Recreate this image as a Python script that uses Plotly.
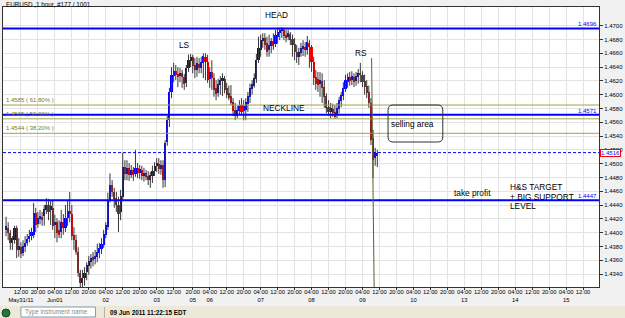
import plotly.graph_objects as go
import pandas as pd

# ---------------- data (EURUSD, 1 hour bars) ----------------
opens = [1.4404, 1.4407, 1.4399, 1.4385, 1.4389, 1.4407, 1.4375, 1.4379, 1.4370, 1.4379,
         1.4385, 1.4391, 1.4395, 1.4397, 1.4429, 1.4412, 1.4420, 1.4423, 1.4424, 1.4433,
         1.4440, 1.4433, 1.4436, 1.4411, 1.4415, 1.4404, 1.4401, 1.4415, 1.4407, 1.4421,
         1.4431, 1.4427, 1.4397, 1.4389, 1.4372, 1.4341, 1.4327, 1.4334, 1.4343, 1.4351,
         1.4357, 1.4365, 1.4362, 1.4365, 1.4370, 1.4376, 1.4382, 1.4397, 1.4408, 1.4447,
         1.4469, 1.4459, 1.4450, 1.4440, 1.4430, 1.4452, 1.4495, 1.4485, 1.4494, 1.4484,
         1.4491, 1.4485, 1.4494, 1.4486, 1.4491, 1.4482, 1.4486, 1.4482, 1.4476, 1.4482,
         1.4489, 1.4497, 1.4499, 1.4492, 1.4498, 1.4476, 1.4531, 1.4563, 1.4604, 1.4627,
         1.4634, 1.4630, 1.4627, 1.4631, 1.4626, 1.4617, 1.4639, 1.4649, 1.4655, 1.4643,
         1.4636, 1.4645, 1.4639, 1.4646, 1.4655, 1.4647, 1.4623, 1.4633, 1.4624, 1.4610,
         1.4602, 1.4614, 1.4620, 1.4623, 1.4610, 1.4602, 1.4598, 1.4589, 1.4578, 1.4569,
         1.4576, 1.4585, 1.4576, 1.4578, 1.4587, 1.4597, 1.4608, 1.4613, 1.4623, 1.4650,
         1.4665, 1.4678, 1.4682, 1.4675, 1.4665, 1.4671, 1.4678, 1.4674, 1.4684, 1.4689,
         1.4692, 1.4694, 1.4687, 1.4684, 1.4688, 1.4681, 1.4674, 1.4662, 1.4655, 1.4660,
         1.4666, 1.4669, 1.4665, 1.4675, 1.4669, 1.4647, 1.4626, 1.4623, 1.4616, 1.4620,
         1.4611, 1.4598, 1.4582, 1.4575, 1.4579, 1.4575, 1.4571, 1.4579, 1.4591, 1.4598,
         1.4608, 1.4618, 1.4626, 1.4621, 1.4626, 1.4620, 1.4626, 1.4631, 1.4629, 1.4620,
         1.4613, 1.4604, 1.4588, 1.4537, 1.4508, 1.4511]
highs = [1.4423, 1.4415, 1.4404, 1.4395, 1.4410, 1.4410, 1.4392, 1.4386, 1.4389, 1.4395,
         1.4398, 1.4404, 1.4407, 1.4443, 1.4436, 1.4430, 1.4433, 1.4430, 1.4440, 1.4450,
         1.4449, 1.4447, 1.4447, 1.4426, 1.4421, 1.4418, 1.4433, 1.4427, 1.4440, 1.4447,
         1.4459, 1.4440, 1.4408, 1.4397, 1.4379, 1.4346, 1.4346, 1.4350, 1.4357, 1.4366,
         1.4369, 1.4372, 1.4375, 1.4384, 1.4385, 1.4392, 1.4404, 1.4415, 1.4458, 1.4486,
         1.4476, 1.4465, 1.4459, 1.4452, 1.4462, 1.4516, 1.4505, 1.4505, 1.4501, 1.4498,
         1.4495, 1.4520, 1.4501, 1.4498, 1.4497, 1.4494, 1.4491, 1.4489, 1.4488, 1.4497,
         1.4502, 1.4508, 1.4508, 1.4505, 1.4505, 1.4534, 1.4569, 1.4610, 1.4640, 1.4646,
         1.4643, 1.4640, 1.4639, 1.4636, 1.4630, 1.4643, 1.4658, 1.4659, 1.4658, 1.4653,
         1.4655, 1.4653, 1.4655, 1.4660, 1.4660, 1.4658, 1.4640, 1.4650, 1.4631, 1.4621,
         1.4623, 1.4627, 1.4631, 1.4627, 1.4617, 1.4613, 1.4614, 1.4595, 1.4588, 1.4584,
         1.4592, 1.4595, 1.4592, 1.4595, 1.4604, 1.4616, 1.4621, 1.4631, 1.4659, 1.4684,
         1.4687, 1.4689, 1.4689, 1.4684, 1.4687, 1.4682, 1.4689, 1.4694, 1.4697, 1.4697,
         1.4698, 1.4697, 1.4694, 1.4694, 1.4691, 1.4687, 1.4682, 1.4672, 1.4668, 1.4675,
         1.4679, 1.4676, 1.4685, 1.4679, 1.4672, 1.4655, 1.4636, 1.4633, 1.4633, 1.4631,
         1.4621, 1.4602, 1.4592, 1.4588, 1.4587, 1.4585, 1.4588, 1.4597, 1.4604, 1.4618,
         1.4629, 1.4631, 1.4633, 1.4634, 1.4631, 1.4633, 1.4637, 1.4646, 1.4634, 1.4629,
         1.4621, 1.4613, 1.4595, 1.4549, 1.4523, 1.4520]
lows = [1.4395, 1.4389, 1.4375, 1.4375, 1.4384, 1.4363, 1.4365, 1.4363, 1.4366, 1.4372,
        1.4381, 1.4386, 1.4389, 1.4392, 1.4401, 1.4407, 1.4412, 1.4410, 1.4410, 1.4427,
        1.4418, 1.4411, 1.4404, 1.4392, 1.4386, 1.4392, 1.4392, 1.4397, 1.4401, 1.4410,
        1.4415, 1.4389, 1.4375, 1.4368, 1.4336, 1.4321, 1.4321, 1.4323, 1.4331, 1.4339,
        1.4348, 1.4351, 1.4354, 1.4357, 1.4363, 1.4369, 1.4378, 1.4392, 1.4404, 1.4444,
        1.4452, 1.4436, 1.4430, 1.4401, 1.4418, 1.4447, 1.4476, 1.4476, 1.4475, 1.4479,
        1.4475, 1.4481, 1.4479, 1.4478, 1.4476, 1.4474, 1.4476, 1.4469, 1.4465, 1.4472,
        1.4482, 1.4488, 1.4485, 1.4484, 1.4465, 1.4466, 1.4526, 1.4553, 1.4595, 1.4618,
        1.4621, 1.4611, 1.4618, 1.4610, 1.4607, 1.4611, 1.4633, 1.4640, 1.4631, 1.4624,
        1.4626, 1.4631, 1.4631, 1.4624, 1.4621, 1.4617, 1.4610, 1.4607, 1.4597, 1.4592,
        1.4597, 1.4600, 1.4598, 1.4602, 1.4595, 1.4592, 1.4585, 1.4569, 1.4563, 1.4566,
        1.4571, 1.4571, 1.4563, 1.4563, 1.4575, 1.4588, 1.4600, 1.4610, 1.4617, 1.4646,
        1.4655, 1.4668, 1.4665, 1.4655, 1.4655, 1.4660, 1.4665, 1.4669, 1.4674, 1.4679,
        1.4682, 1.4679, 1.4676, 1.4679, 1.4672, 1.4655, 1.4650, 1.4646, 1.4643, 1.4655,
        1.4656, 1.4655, 1.4658, 1.4639, 1.4633, 1.4614, 1.4607, 1.4604, 1.4597, 1.4588,
        1.4581, 1.4573, 1.4569, 1.4566, 1.4568, 1.4565, 1.4566, 1.4573, 1.4582, 1.4592,
        1.4604, 1.4610, 1.4613, 1.4614, 1.4611, 1.4613, 1.4616, 1.4618, 1.4611, 1.4600,
        1.4595, 1.4581, 1.4527, 1.4479, 1.4497, 1.4495]
closes = [1.4410, 1.4399, 1.4385, 1.4392, 1.4407, 1.4375, 1.4381, 1.4369, 1.4381, 1.4385,
          1.4391, 1.4395, 1.4401, 1.4429, 1.4411, 1.4421, 1.4424, 1.4418, 1.4434, 1.4440,
          1.4430, 1.4439, 1.4410, 1.4415, 1.4399, 1.4397, 1.4415, 1.4407, 1.4421, 1.4431,
          1.4427, 1.4395, 1.4389, 1.4372, 1.4341, 1.4327, 1.4334, 1.4341, 1.4353, 1.4359,
          1.4363, 1.4360, 1.4366, 1.4372, 1.4378, 1.4384, 1.4398, 1.4411, 1.4447, 1.4469,
          1.4459, 1.4449, 1.4440, 1.4427, 1.4453, 1.4495, 1.4485, 1.4494, 1.4484, 1.4491,
          1.4484, 1.4494, 1.4486, 1.4492, 1.4482, 1.4486, 1.4481, 1.4476, 1.4484, 1.4489,
          1.4497, 1.4501, 1.4492, 1.4498, 1.4476, 1.4530, 1.4563, 1.4604, 1.4629, 1.4634,
          1.4629, 1.4626, 1.4631, 1.4626, 1.4616, 1.4639, 1.4650, 1.4655, 1.4642, 1.4636,
          1.4646, 1.4639, 1.4647, 1.4656, 1.4647, 1.4621, 1.4633, 1.4624, 1.4607, 1.4601,
          1.4616, 1.4621, 1.4624, 1.4607, 1.4600, 1.4595, 1.4588, 1.4576, 1.4569, 1.4578,
          1.4584, 1.4575, 1.4584, 1.4589, 1.4598, 1.4610, 1.4616, 1.4624, 1.4650, 1.4668,
          1.4679, 1.4682, 1.4672, 1.4662, 1.4672, 1.4678, 1.4671, 1.4687, 1.4691, 1.4694,
          1.4695, 1.4685, 1.4682, 1.4689, 1.4679, 1.4672, 1.4662, 1.4655, 1.4662, 1.4668,
          1.4671, 1.4665, 1.4676, 1.4669, 1.4647, 1.4624, 1.4616, 1.4614, 1.4621, 1.4610,
          1.4597, 1.4581, 1.4575, 1.4581, 1.4573, 1.4568, 1.4581, 1.4592, 1.4600, 1.4610,
          1.4621, 1.4626, 1.4620, 1.4627, 1.4618, 1.4627, 1.4631, 1.4629, 1.4618, 1.4611,
          1.4602, 1.4588, 1.4534, 1.4505, 1.4517, 1.4516]

# trading sessions (bar times) and empty future slots of the time axis
sessions = [("2011-05-31 05:00", "2011-06-03 17:00"), ("2011-06-05 17:00", "2011-06-09 11:00")]
future_slots = [("2011-06-09 12:00", "2011-06-11 03:00"), ("2011-06-13 04:00", "2011-06-15 23:00")]
label_hours = [4, 12, 20]
first_date_labels = {"2011-05-31": "May31/11", "2011-06-01": "Jun01"}

y_ticks = [1.4340, 1.4360, 1.4380, 1.4400, 1.4420, 1.4440, 1.4460, 1.4480, 1.4500,
           1.4520, 1.4540, 1.4560, 1.4580, 1.4600, 1.4620, 1.4640, 1.4660, 1.4680, 1.4700]

blue_levels = [1.4696, 1.4571, 1.4447]
fib_levels = [1.4585, 1.4565, 1.4544]
fib_labels = ["1.4585 ( 61.80% )", "1.4565 ( 50.00% )", "1.4544 ( 38.20% )"]
current_price = 1.4516
vline_top = 1.4653

# ---------------- build axis ----------------
bar_times = []
for a, b in sessions:
    bar_times += list(pd.date_range(a, b, freq="h"))
axis_times = list(bar_times)
for a, b in future_slots:
    axis_times += list(pd.date_range(a, b, freq="h"))

XMIN, XMAX = -1.44, 279.5
YMIN, YMAX = 1.43212, 1.47271

tickvals, ticktext = [], []
seen_dates = set()
for i, t in enumerate(axis_times):
    if i < XMIN or i > XMAX:
        continue
    if t.hour in label_hours and t.minute == 0:
        d = t.strftime("%Y-%m-%d")
        txt_ = t.strftime("%H:%M")
        if d not in seen_dates:
            seen_dates.add(d)
            txt_ += "<br>" + first_date_labels.get(d, t.strftime("%d"))
        tickvals.append(i)
        ticktext.append(txt_)

n = len(opens)
xs = list(range(n))

# wicks
wx, wy = [], []
for i in xs:
    wx += [i, i, None]
    wy += [lows[i], highs[i], None]

bases = [min(o, c) for o, c in zip(opens, closes)]
heights = [max(abs(c - o), 0.00006) for o, c in zip(opens, closes)]
colors = ["#0000ff" if c >= o else "#ff0000" for o, c in zip(opens, closes)]

fig = go.Figure()
fig.add_trace(go.Scatter(x=wx, y=wy, mode="lines", line=dict(color="#383838", width=1),
                         hoverinfo="skip", showlegend=False))
fig.add_trace(go.Bar(x=xs, y=heights, base=bases, marker=dict(color=colors, line=dict(width=0)),
                     width=1.0, showlegend=False))

FONT = "Liberation Sans, Arial, sans-serif"
PL, PR, PT, PB = 2, 601, 7, 287


def px(xp):
    return (xp - PL) / (PR - PL)


def py(yp):
    return (PB - yp) / (PB - PT)


shapes = []
olive = "#a3a34c"
for lv in fib_levels:
    shapes.append(dict(type="line", xref="paper", yref="y", x0=0, x1=1, y0=lv, y1=lv,
                       line=dict(color=olive, width=1)))
for lv in blue_levels:
    shapes.append(dict(type="line", xref="paper", yref="y", x0=0, x1=1, y0=lv, y1=lv,
                       line=dict(color="#0000ff", width=2)))
shapes.append(dict(type="line", xref="paper", yref="y", x0=0, x1=1, y0=current_price, y1=current_price,
                   line=dict(color="#0000ff", width=1, dash="3px,2px")))
shapes.append(dict(type="line", xref="x", yref="y", x0=172.3, x1=173.5, y0=vline_top, y1=YMIN,
                   line=dict(color="#5f5f30", width=1)))

# rounded "selling area" box
x0b, x1b, y0b, y1b = px(389), px(444), py(142), py(105)
rx, ry = 5 / (PR - PL), 5 / (PB - PT)
path = (f"M {x0b+rx},{y1b} L {x1b-rx},{y1b} Q {x1b},{y1b} {x1b},{y1b-ry} "
        f"L {x1b},{y0b+ry} Q {x1b},{y0b} {x1b-rx},{y0b} L {x0b+rx},{y0b} "
        f"Q {x0b},{y0b} {x0b},{y0b+ry} L {x0b},{y1b-ry} Q {x0b},{y1b} {x0b+rx},{y1b} Z")
shapes.append(dict(type="path", xref="paper", yref="paper", path=path,
                   line=dict(color="#333333", width=1)))

# status bar
shapes.append(dict(type="rect", xref="paper", yref="paper", x0=px(-5), x1=px(630), y0=py(306), y1=py(320),
                   fillcolor="#ece9d8", line=dict(width=0), layer="below"))
shapes.append(dict(type="rect", xref="paper", yref="paper", x0=px(20), x1=px(95), y0=py(317), y1=py(307),
                   fillcolor="#ffffff", line=dict(color="#7f9db9", width=1)))
shapes.append(dict(type="circle", xref="paper", yref="paper", x0=px(1), x1=px(9), y0=py(317), y1=py(309),
                   fillcolor="#1f7a3a", line=dict(color="#0d4d20", width=1)))
shapes.append(dict(type="line", xref="paper", yref="paper", x0=px(104), x1=px(104), y0=py(307), y1=py(318),
                   line=dict(color="#b8b49c", width=1)))

annotations = []


def txt(x, y, s, size=8.3, color="black", xanchor="center", yanchor="middle", **kw):
    annotations.append(dict(xref="paper", yref="paper", x=px(x), y=py(y), text=s, showarrow=False,
                            xanchor=xanchor, yanchor=yanchor,
                            font=dict(family=FONT, size=size, color=color), **kw))


txt(3, 4, "EURUSD ,1 hour, #177 / 1001", size=6.3, xanchor="left")
txt(277, 15, "HEAD")
txt(184, 45, "LS")
txt(362, 53, "RS")
txt(284, 108, "NECKLINE")
txt(414, 124, "selling area")
txt(453, 193, "take profit", xanchor="left")
txt(510, 187, "H&S TARGET", xanchor="left")
txt(510, 196.5, "+ BIG SUPPORT", xanchor="left")
txt(510, 206, "LEVEL", xanchor="left")
txt(22, 312, "Type instrument name", size=6.3, color="#8a8a8a", xanchor="left")
txt(108, 312.5, "<b>09 Jun 2011 11:22:15 EDT</b>", size=6.3, xanchor="left")

for lv, lab in zip(fib_levels, fib_labels):
    annotations.append(dict(xref="paper", yref="y", x=px(3), y=lv, text=lab, showarrow=False,
                            xanchor="left", yanchor="bottom", yshift=0,
                            font=dict(family=FONT, size=6, color="#7a7a2a")))
for lv in blue_levels:
    annotations.append(dict(xref="paper", yref="y", x=1, y=lv, text=f"{lv:.4f}", showarrow=False,
                            xanchor="right", yanchor="bottom", yshift=-1,
                            font=dict(family=FONT, size=6, color="#0000ff")))
annotations.append(dict(xref="paper", yref="y", x=px(602), y=current_price, text=f"{current_price:.4f}",
                        showarrow=False, xanchor="left", yanchor="middle", bgcolor="white",
                        bordercolor="#ff0000", borderwidth=1, borderpad=0,
                        font=dict(family=FONT, size=6, color="#0000ff")))

fig.update_layout(
    width=625, height=318,
    margin=dict(l=PL, r=625 - PR, t=PT, b=318 - PB),
    paper_bgcolor="#f1f1f1", plot_bgcolor="white",
    bargap=0, showlegend=False,
    shapes=shapes, annotations=annotations,
    font=dict(family=FONT, size=6, color="black"),
    xaxis=dict(range=[XMIN, XMAX], tickmode="array", tickvals=tickvals, ticktext=ticktext,
               showgrid=True, gridcolor="#e3e3e3", gridwidth=1, zeroline=False,
               ticks="outside", ticklen=2, tickcolor="#333", tickfont=dict(size=5.8),
               ticklabelstandoff=-3,
               showline=True, linecolor="#333", linewidth=1, mirror=True, tickangle=0),
    yaxis=dict(range=[YMIN, YMAX], side="right", tickmode="array", tickvals=y_ticks,
               ticktext=[f"{v:.4f}" for v in y_ticks],
               showgrid=True, gridcolor="#e3e3e3", gridwidth=1, zeroline=False,
               ticks="outside", ticklen=3, tickcolor="#333", tickfont=dict(size=6),
               showline=True, linecolor="#333", linewidth=1, mirror=True),
)

fig.write_html("out.html")
